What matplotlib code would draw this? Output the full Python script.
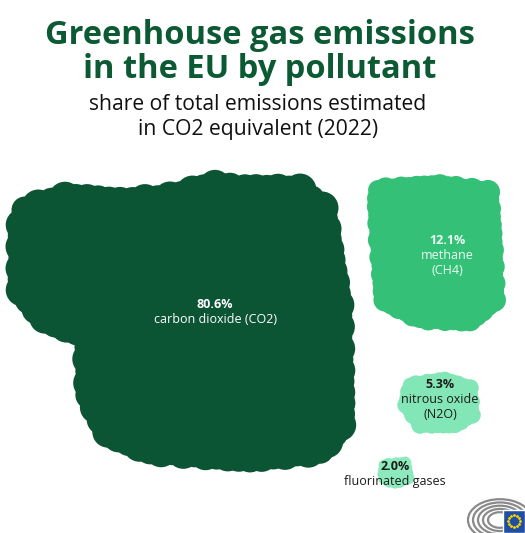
import numpy as np
import matplotlib.pyplot as plt
from matplotlib.patches import Polygon, Circle, Rectangle, Arc

plt.rcParams['font.family'] = ['Open Sans', 'DejaVu Sans']

# data
names = ['carbon dioxide (CO2)', 'methane\n(CH4)', 'nitrous oxide\n(N2O)', 'fluorinated gases']
shares = [80.6, 12.1, 5.3, 2.0]

colors = ['#0c5534', '#34c177', '#83e6b6', '#8ceabd']
text_colors = ['white', '#eafff3', '#1b1b1b', '#1b1b1b']

# blob outlines (pixel coords, inner polygon) and bump radius
outlines = [
    [(25, 210), (65, 198), (120, 203), (170, 198), (215, 186), (245, 190), (300, 190),
     (322, 208), (330, 260), (338, 305), (340, 425), (320, 450), (250, 457), (150, 450),
     (108, 432), (90, 395), (88, 335), (45, 318), (22, 290), (22, 225)],
    [(378, 190), (440, 186), (488, 192), (492, 250), (494, 300), (470, 320), (420, 318),
     (385, 300), (380, 240)],
    [(410, 385), (445, 380), (470, 388), (472, 415), (455, 425), (420, 425), (406, 405)],
    [(384, 465), (405, 463), (408, 478), (395, 483), (384, 479)],
]
bump = [15, 11, 8, 6]
label_pos = [(215, 305), (447, 241), (440, 385), (395, 467)]

fig = plt.figure(figsize=(5.25, 5.33), dpi=100)
ax = fig.add_axes([0, 0, 1, 1])
ax.set_xlim(0, 525)
ax.set_ylim(533, 0)
ax.axis('off')

for pts, r, c in zip(outlines, bump, colors):
    ax.add_patch(Polygon(pts, closed=True, facecolor=c, edgecolor=c, lw=1))
    ring = pts + [pts[0]]
    k = 0
    for (x0, y0), (x1, y1) in zip(ring[:-1], ring[1:]):
        seg = np.hypot(x1 - x0, y1 - y0)
        n = max(1, int(seg / (r * 0.7)))
        for t in np.linspace(0, 1, n, endpoint=False):
            rr = r * (0.9 + 0.2 * abs(np.sin(k * 1.7)))
            ax.add_patch(Circle((x0 + t * (x1 - x0), y0 + t * (y1 - y0)), rr,
                                facecolor=c, edgecolor='none'))
            k += 1

for name, val, (x, y), tc in zip(names, shares, label_pos, text_colors):
    ax.text(x, y, f'{val:.1f}%', ha='center', va='center', fontsize=9,
            fontweight='bold', color=tc)
    ax.text(x, y + 8, name, ha='center', va='top', fontsize=9, color=tc,
            linespacing=1.25)

# titles
ax.text(260, 35, 'Greenhouse gas emissions', ha='center', va='center',
        fontsize=23.5, fontweight='bold', color='#0c5a34')
ax.text(260, 70, 'in the EU by pollutant', ha='center', va='center',
        fontsize=23.5, fontweight='bold', color='#0c5a34')
ax.text(258, 104, 'share of total emissions estimated', ha='center', va='center',
        fontsize=15.2, color='#111111')
ax.text(258, 130, 'in CO2 equivalent (2022)', ha='center', va='center',
        fontsize=15.2, color='#111111')

# parliament logo
for rad in [12, 17, 22, 27, 32]:
    ax.add_patch(Arc((500, 520), rad * 2, rad * 1.3, theta1=0, theta2=360,
                     color='#8a8a8a', lw=1.6))
ax.add_patch(Rectangle((503, 510), 22, 23, facecolor='#1f4fa3', edgecolor='white', lw=1))
for a in np.linspace(0, 2 * np.pi, 12, endpoint=False):
    ax.plot(514 + 6 * np.cos(a), 521 + 6 * np.sin(a), 'o', ms=1, color='#ffd400')

fig.savefig('out.png', dpi=100)
